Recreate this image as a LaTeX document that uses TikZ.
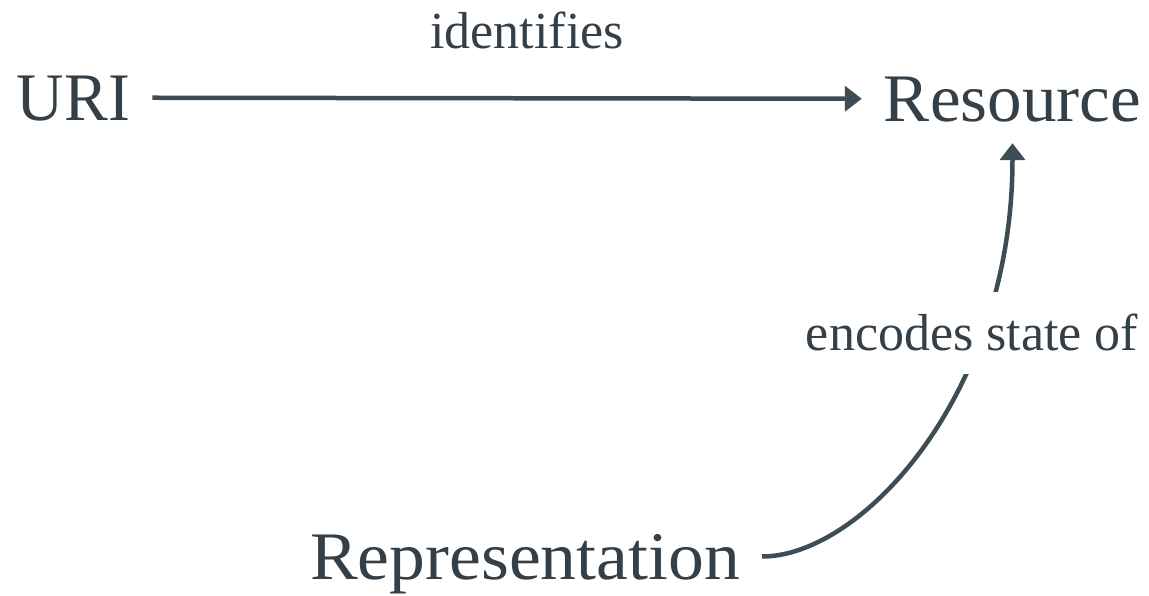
\documentclass[tikz,border=0pt]{standalone}
\usepackage{fontspec}
\setmainfont{Liberation Serif}
\usetikzlibrary{arrows.meta}
\definecolor{txt}{HTML}{343F47}
\definecolor{ln}{HTML}{3E4C54}
\tikzset{
  term/.style={text=txt, font=\fontsize{68}{80}\selectfont, inner xsep=22pt, inner ysep=22pt, text depth=0pt, anchor=base},
  lbl/.style={text=txt, font=\fontsize{52}{62}\selectfont, anchor=base},
  conn/.style={draw=ln, line width=4.5pt, -{Triangle[length=17pt,width=25pt]}},
}
\begin{document}
\begin{tikzpicture}[x=1pt,y=-1pt]
\useasboundingbox (0,0) rectangle (1149,595);
\node[term] (uri) at (73.5,120) {\scalebox{0.966}[1]{URI}};
\node[term] (res) at (1012.5,121) {\scalebox{1.016}[1]{Resource}};
\node[term, inner ysep=4pt] (rep) at (525,579) {\scalebox{1.054}[1]{Representation}};
\node[lbl] (idf) at (527,48) {identifies};
\draw[conn] (uri.east) -- (res.west);
\draw[conn] (rep.east) .. controls +(100,0) and +(0,250) .. (res.south);
\node[lbl, fill=white, text height=46pt, text depth=12pt, inner ysep=12pt, inner xsep=2pt] (enc) at (972,350) {encodes state of};
\end{tikzpicture}
\end{document}
